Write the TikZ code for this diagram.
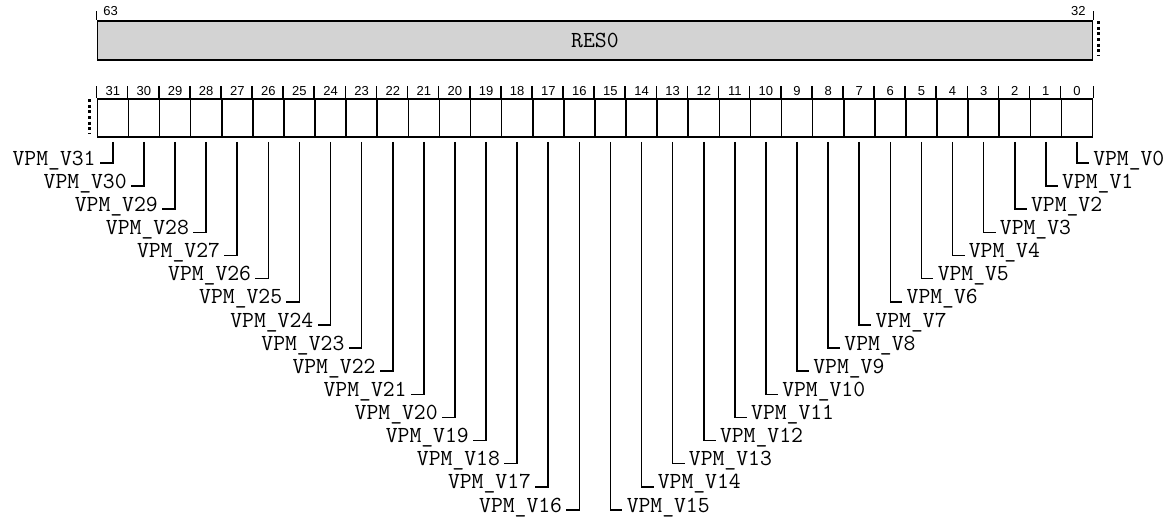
\documentclass[tikz,border=0pt]{standalone}
\usepackage{fontspec}
\newfontfamily\bitfont{Liberation Sans}
\usetikzlibrary{positioning, calc}
\definecolor{resgray}{HTML}{D3D3D3}

\begin{document}
\begin{tikzpicture}[x=1pt, y=-1pt, line width=1.6pt,
    bitcell/.style={rectangle, draw, minimum width=31.1pt, minimum height=38pt, inner sep=0pt},
    bitnum/.style={font=\bitfont\fontsize{13}{13}\selectfont, inner sep=0pt},
    fieldname/.style={font=\ttfamily\fontsize{23}{26}\selectfont, inner xsep=3.5pt, inner ysep=0pt},
    dotline/.style={line width=3pt, dash pattern=on 3pt off 2.6pt}]
      \useasboundingbox (0,0) rectangle (1173,520);

      % Upper word, bits 63..32
      \node[bitcell, fill=resgray, minimum width=995.2pt, minimum height=39pt, font=\ttfamily\fontsize{23}{26}\selectfont] (res) at (594.9,40.5) {RES0};
      \draw (res.north west) -- ++(0,-9);
      \draw (res.north east) -- ++(0,-9);
      \node[bitnum, anchor=base west] (hi) at ($(res.north west)+(6,-5)$) {63};
      \node[bitnum, anchor=base east] (lo) at ($(res.north east)+(-7,-5)$) {32};
      \draw[dotline] ([xshift=5.5pt,yshift=-1pt]res.north east) -- ([xshift=5.5pt,yshift=5pt]res.south east);

      % Lower word, bits 31..0
      \foreach \i in {0,...,31} {
        \pgfmathsetmacro{\xc}{97.3+(31.5-\i)*31.1}
        \node[bitcell] (b\i) at (\xc,118) {};
        \node[bitnum, anchor=base] (n\i) at (\xc,95) {\i};
        \draw (b\i.north west) -- ++(0,-12);
      }
      \draw (b0.north east) -- ++(0,-12);
      \draw[dotline] ([xshift=-7pt,yshift=-1pt]b31.north west) -- ([xshift=-7pt,yshift=4pt]b31.south west);

      % Field names, left half
      \foreach \i in {16,...,31} {
        \pgfmathsetmacro{\xc}{97.3+(31.5-\i)*31.1}
        \pgfmathsetmacro{\yl}{163+(31-\i)*23.13}
        \node[fieldname, anchor=mid east] (f\i) at (\xc-13,\yl) {VPM\_V\i};
        \draw ([yshift=-4pt]b\i.south) |- (f\i.mid east);
      }

      % Field names, right half
      \foreach \i in {0,...,15} {
        \pgfmathsetmacro{\xc}{97.3+(31.5-\i)*31.1}
        \pgfmathsetmacro{\yl}{163+\i*23.13}
        \node[fieldname, anchor=mid west] (f\i) at (\xc+12,\yl) {VPM\_V\i};
        \draw ([yshift=-4pt]b\i.south) |- (f\i.mid west);
      }
    \end{tikzpicture}
\end{document}
